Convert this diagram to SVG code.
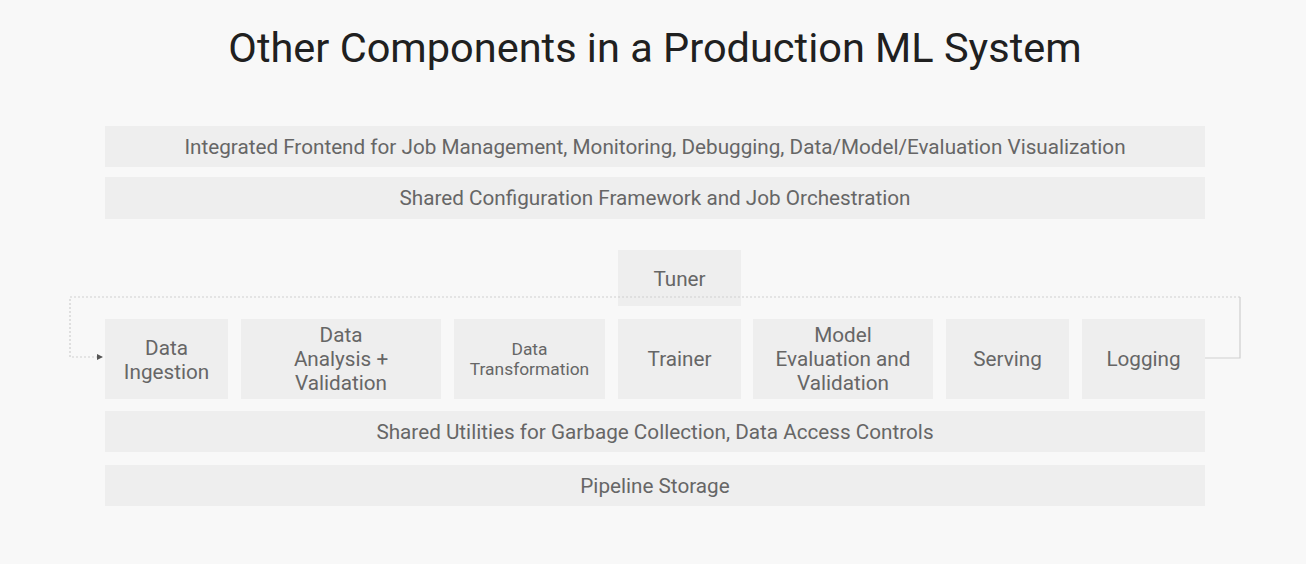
<svg xmlns="http://www.w3.org/2000/svg" width="1306" height="564" viewBox="0 0 1306 564">
  <style>
    .bg { fill: #f8f8f8; }
    .box { fill: #eeeeee; }
    .lbl { font-family: Roboto, "Open Sans", "Liberation Sans", sans-serif; font-size: 20.7px; fill: #666666; text-anchor: middle; }
    .sm { font-size: 17.4px; }
    .title { font-family: Roboto, "Open Sans", "Liberation Sans", sans-serif; font-size: 41.5px; fill: #202020; text-anchor: middle; }
    .link { fill: none; stroke: #cfcfcf; stroke-width: 1.2; }
    .dot { stroke-dasharray: 2 2; }
  </style>
  <defs>
    <marker id="arrow" viewBox="0 0 6 6" refX="5" refY="3" markerWidth="5" markerHeight="5" orient="auto">
      <path d="M0,0 L6,3 L0,6 Z" fill="#555555"/>
    </marker>
  </defs>

  <rect class="bg" x="0" y="0" width="1306" height="564"/>
  <text class="title" x="655" y="62">Other Components in a Production ML System</text>

  <g id="frontend">
    <rect class="box" x="105" y="126" width="1100" height="41"/>
    <text class="lbl" x="655" y="154">Integrated Frontend for Job Management, Monitoring, Debugging, Data/Model/Evaluation Visualization</text>
  </g>
  <g id="config">
    <rect class="box" x="105" y="177" width="1100" height="42"/>
    <text class="lbl" x="655" y="205">Shared Configuration Framework and Job Orchestration</text>
  </g>

  <g id="tuner">
    <rect class="box" x="618" y="250" width="123" height="56"/>
    <text class="lbl" x="679.5" y="286">Tuner</text>
  </g>

  <g id="ingestion">
    <rect class="box" x="105" y="319" width="123" height="80"/>
    <text class="lbl" x="166.5" y="355">Data</text>
    <text class="lbl" x="166.5" y="379">Ingestion</text>
  </g>
  <g id="analysis">
    <rect class="box" x="241" y="319" width="200" height="80"/>
    <text class="lbl" x="341" y="342">Data</text>
    <text class="lbl" x="341" y="366">Analysis +</text>
    <text class="lbl" x="341" y="390">Validation</text>
  </g>
  <g id="transform">
    <rect class="box" x="454" y="319" width="151" height="80"/>
    <text class="lbl sm" x="529.5" y="355">Data</text>
    <text class="lbl sm" x="529.5" y="375">Transformation</text>
  </g>
  <g id="trainer">
    <rect class="box" x="618" y="319" width="123" height="80"/>
    <text class="lbl" x="679.5" y="366">Trainer</text>
  </g>
  <g id="evaluation">
    <rect class="box" x="753" y="319" width="180" height="80"/>
    <text class="lbl" x="843" y="342">Model</text>
    <text class="lbl" x="843" y="366">Evaluation and</text>
    <text class="lbl" x="843" y="390">Validation</text>
  </g>
  <g id="serving">
    <rect class="box" x="946" y="319" width="123" height="80"/>
    <text class="lbl" x="1007.5" y="366">Serving</text>
  </g>
  <g id="logging">
    <rect class="box" x="1082" y="319" width="123" height="80"/>
    <text class="lbl" x="1143.5" y="366">Logging</text>
  </g>

  <g id="utilities">
    <rect class="box" x="105" y="411" width="1100" height="41"/>
    <text class="lbl" x="655" y="439">Shared Utilities for Garbage Collection, Data Access Controls</text>
  </g>
  <g id="storage">
    <rect class="box" x="105" y="465" width="1100" height="41"/>
    <text class="lbl" x="655" y="493">Pipeline Storage</text>
  </g>

  <!-- feedback loop from Logging back to Data Ingestion, drawn over the Tuner box -->
  <g id="connectors">
    <path class="link" d="M1205,358 H1240 V297"/>
    <path class="link dot" d="M1240,297 H70 V357 H102" marker-end="url(#arrow)"/>
  </g>
</svg>
